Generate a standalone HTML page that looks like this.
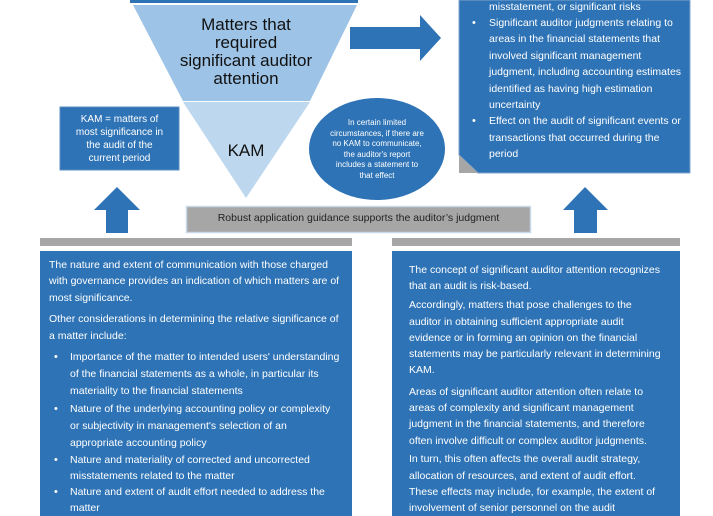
<!DOCTYPE html>
<html><head><meta charset="utf-8"><style>
body{margin:0;width:713px;height:516px;overflow:hidden;background:#fff;position:relative;font-family:"Liberation Sans",sans-serif}
.a{position:absolute}
.t{position:absolute;color:#fff;font-size:10.5px;white-space:nowrap;line-height:12px}
.L .t{font-size:10.5px}
.bl{position:absolute;color:#fff;font-size:11px;line-height:12px}
</style></head><body>
<svg class="a" style="left:0;top:0" width="713" height="516">
<rect x="130" y="0" width="228" height="3" fill="#2e73b5"/>
<polygon points="133,5 357,5 310,101 183,101" fill="#9dc3e6"/>
<polygon points="183,102 310,102 246,198" fill="#bdd7ee"/>
<polygon points="350,27 420,27 420,15 441,38 420,61 420,49 350,49" fill="#2e73b5"/>
<polygon points="94,210 117,187 140,210 128,210 128,233 106,233 106,210" fill="#2e73b5"/>
<polygon points="563,210 585,187 608,210 597,210 597,233 574,233 574,210" fill="#2e73b5"/>
<ellipse cx="377" cy="149" rx="68" ry="51" fill="#2e73b5"/>
<polygon points="459,0 690,0 690,173 478,173 459,155" fill="#2e73b5" stroke="#7fa6cf" stroke-width="1"/>
<polygon points="459,155 478,173 459,173" fill="#a6a6a6"/>
<rect x="186.5" y="206.5" width="344" height="26" fill="#a6a6a6" stroke="#c9d9ea" stroke-width="1.5"/>
<rect x="40" y="238" width="312" height="8" fill="#a6a6a6"/>
<rect x="392" y="238" width="288" height="8" fill="#a6a6a6"/>
<rect x="40" y="251" width="312" height="265" fill="#2e73b5"/>
<rect x="392" y="251" width="288" height="265" fill="#2e73b5"/>
<rect x="60" y="107" width="119" height="63" fill="#2e73b5" stroke="#5b8ec4"/>
</svg>
<div class="a" style="left:150px;top:16px;width:192px;text-align:center;font-size:17px;line-height:18px;color:#111">Matters that<br>required<br>significant auditor<br>attention</div>
<div class="a" style="left:200px;top:141px;width:92px;text-align:center;font-size:17px;color:#111">KAM</div>
<div class="a" style="left:60px;top:113px;width:119px;text-align:center;font-size:10px;line-height:13px;color:#fff">KAM = matters of<br>most significance in<br>the audit of the<br>current period</div>
<div class="a" style="left:318px;top:118px;width:118px;text-align:center;font-size:8px;line-height:10.5px;color:#fff">In certain limited<br>circumstances, if there are<br>no KAM to communicate,<br>the auditor's report<br>includes a statement to<br>that effect</div>
<div class="a" style="left:186px;top:212px;width:345px;text-align:center;font-size:10.5px;color:#222">Robust application guidance supports the auditor’s judgment</div>

<div class="t" style="left:489px;top:1px">misstatement, or significant risks</div>
<div class="bl" style="left:472px;top:17px">•</div>
<div class="t" style="left:489px;top:17px">Significant auditor judgments relating to</div>
<div class="t" style="left:489px;top:33px">areas in the financial statements that</div>
<div class="t" style="left:489px;top:50px">involved significant management</div>
<div class="t" style="left:489px;top:66px">judgment, including accounting estimates</div>
<div class="t" style="left:489px;top:83px">identified as having high estimation</div>
<div class="t" style="left:489px;top:99px">uncertainty</div>
<div class="bl" style="left:472px;top:115px">•</div>
<div class="t" style="left:489px;top:115px">Effect on the audit of significant events or</div>
<div class="t" style="left:489px;top:132px">transactions that occurred during the</div>
<div class="t" style="left:489px;top:148px">period</div>

<div class="L">
<div class="t" style="left:49px;top:259px">The nature and extent of communication with those charged</div>
<div class="t" style="left:49px;top:275px">with governance provides an indication of which matters are of</div>
<div class="t" style="left:49px;top:292px">most significance.</div>
<div class="t" style="left:49px;top:313px">Other considerations in determining the relative significance of</div>
<div class="t" style="left:49px;top:330px">a matter include:</div>
<div class="bl" style="left:54px;top:351px">•</div>
<div class="t" style="left:70px;top:351px">Importance of the matter to intended users' understanding</div>
<div class="t" style="left:70px;top:368px">of the financial statements as a whole, in particular its</div>
<div class="t" style="left:70px;top:385px">materiality to the financial statements</div>
<div class="bl" style="left:54px;top:403px">•</div>
<div class="t" style="left:70px;top:403px">Nature of the underlying accounting policy or complexity</div>
<div class="t" style="left:70px;top:420px">or subjectivity in management's selection of an</div>
<div class="t" style="left:70px;top:437px">appropriate accounting policy</div>
<div class="bl" style="left:54px;top:454px">•</div>
<div class="t" style="left:70px;top:454px">Nature and materiality of corrected and uncorrected</div>
<div class="t" style="left:70px;top:470px">misstatements related to the matter</div>
<div class="bl" style="left:54px;top:486px">•</div>
<div class="t" style="left:70px;top:486px">Nature and extent of audit effort needed to address the</div>
<div class="t" style="left:70px;top:502px">matter</div>
</div>

<div class="t" style="left:409px;top:264px">The concept of significant auditor attention recognizes</div>
<div class="t" style="left:409px;top:280px">that an audit is risk-based.</div>
<div class="t" style="left:409px;top:299px">Accordingly, matters that pose challenges to the</div>
<div class="t" style="left:409px;top:316px">auditor in obtaining sufficient appropriate audit</div>
<div class="t" style="left:409px;top:332px">evidence or in forming an opinion on the financial</div>
<div class="t" style="left:409px;top:348px">statements may be particularly relevant in determining</div>
<div class="t" style="left:409px;top:364px">KAM.</div>
<div class="t" style="left:409px;top:386px">Areas of significant auditor attention often relate to</div>
<div class="t" style="left:409px;top:402px">areas of complexity and significant management</div>
<div class="t" style="left:409px;top:418px">judgment in the financial statements, and therefore</div>
<div class="t" style="left:409px;top:435px">often involve difficult or complex auditor judgments.</div>
<div class="t" style="left:409px;top:453px">In turn, this often affects the overall audit strategy,</div>
<div class="t" style="left:409px;top:470px">allocation of resources, and extent of audit effort.</div>
<div class="t" style="left:409px;top:486px">These effects may include, for example, the extent of</div>
<div class="t" style="left:409px;top:502px">involvement of senior personnel on the audit</div>
</body></html>
